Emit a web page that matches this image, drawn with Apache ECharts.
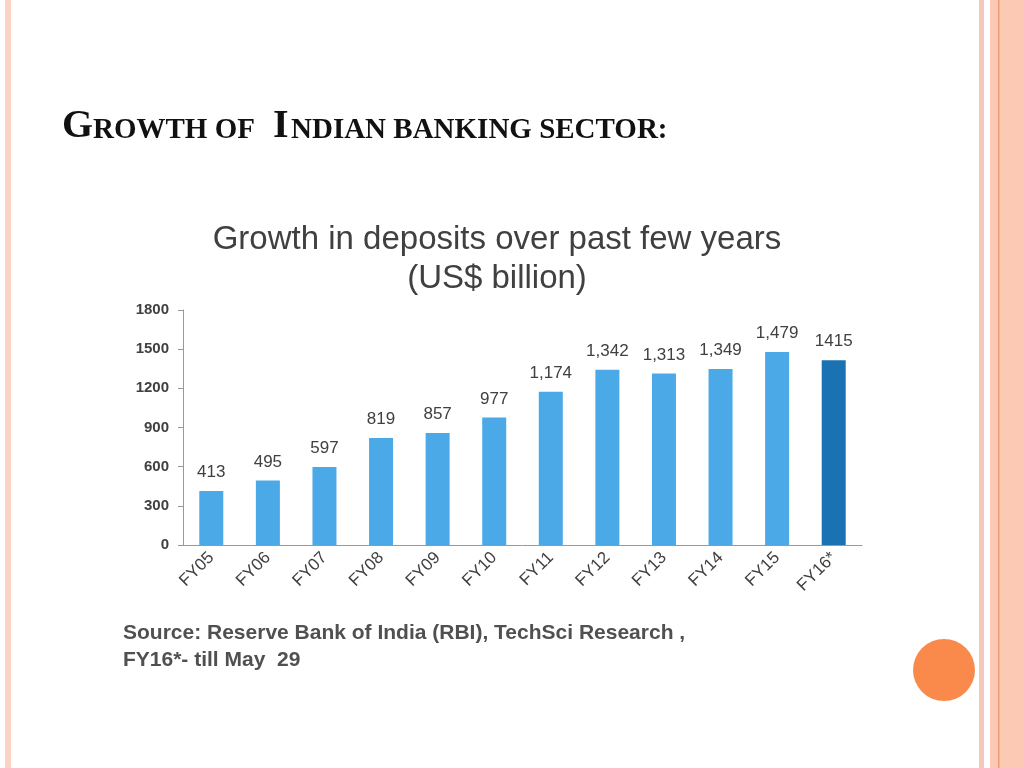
<!DOCTYPE html>
<html><head><meta charset="utf-8">
<script src="https://cdn.jsdelivr.net/npm/echarts@6/dist/echarts.min.js"></script>
<style>html,body{margin:0;padding:0;background:#fff}#c{width:1024px;height:768px}</style>
</head><body><div id="c"></div>
<script>
const categories=['FY05','FY06','FY07','FY08','FY09','FY10','FY11','FY12','FY13','FY14','FY15','FY16*'];
const values=[413,495,597,819,857,977,1174,1342,1313,1349,1479,1415];
const valueLabels=['413','495','597','819','857','977','1,174','1,342','1,313','1,349','1,479','1415'];
const yTicks=[0,300,600,900,1200,1500,1800];
const chart=echarts.init(document.getElementById('c'));
chart.setOption({
 animation:false,
 graphic:[
  {type:'rect',shape:{x:5,y:0,width:6,height:768},style:{fill:'#f8d3c6'}},
  {type:'rect',shape:{x:979,y:0,width:5,height:768},style:{fill:'#f6c8b8'}},
  {type:'rect',shape:{x:990,y:0,width:34,height:768},style:{fill:'#fcc9b5'}},
  {type:'rect',shape:{x:998,y:0,width:1.5,height:768},style:{fill:'#ec9e78'}},
  {type:'circle',shape:{cx:944,cy:670,r:31},style:{fill:'#f98a4b'}},
  {type:'text',x:62,y:147,style:{text:'G',font:'bold 40px "Liberation Serif"',fill:'#111',verticalAlign:'bottom'}},
  {type:'text',x:93,y:145,style:{text:'ROWTH OF ',font:'bold 29px "Liberation Serif"',fill:'#111',verticalAlign:'bottom'}},
  {type:'text',x:273,y:147,style:{text:'I',font:'bold 40px "Liberation Serif"',fill:'#111',verticalAlign:'bottom'}},
  {type:'text',x:291,y:145,style:{text:'NDIAN BANKING SECTOR:',font:'bold 29px "Liberation Serif"',fill:'#111',verticalAlign:'bottom'}},
  {type:'text',x:497,y:240,style:{text:'Growth in deposits over past few years',font:'500 33px "Liberation Sans"',fill:'#404040',align:'center',verticalAlign:'middle'}},
  {type:'text',x:497,y:279,style:{text:'(US$ billion)',font:'500 33px "Liberation Sans"',fill:'#404040',align:'center',verticalAlign:'middle'}},
  {type:'text',left:123,top:620,style:{text:'Source: Reserve Bank of India (RBI), TechSci Research ,\nFY16*- till May  29',font:'bold 21px "Liberation Sans"',fill:'#505050',lineHeight:27}}
 ],
 grid:{left:183,right:162,top:310,bottom:223,containLabel:false},
 xAxis:{type:'category',data:categories,axisTick:{show:false},axisLine:{lineStyle:{color:'#999'}},
  axisLabel:{rotate:45,color:'#404040',fontSize:17,fontFamily:'Liberation Sans',margin:10}},
 yAxis:{type:'value',min:0,max:1800,interval:300,splitLine:{show:false},
  axisLine:{show:true,lineStyle:{color:'#999'}},axisTick:{show:true,lineStyle:{color:'#999'}},
  axisLabel:{color:'#404040',fontSize:15,fontWeight:'bold',fontFamily:'Liberation Sans',margin:14,formatter:v=>String(v)}},
 series:[{type:'bar',barWidth:24,
  data:values.map((v,i)=>({value:v,itemStyle:{color:i===values.length-1?'#1a72b2':'#4aa9e6'}})),
  label:{show:true,position:'top',distance:10,color:'#404040',fontSize:17,fontFamily:'Liberation Sans',
   formatter:p=>valueLabels[p.dataIndex]}}]
});
</script></body></html>
